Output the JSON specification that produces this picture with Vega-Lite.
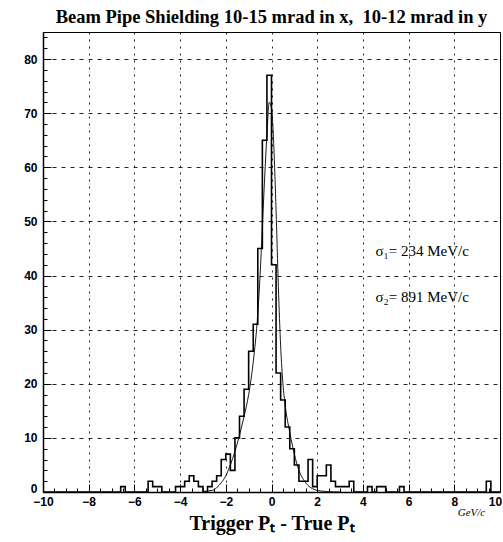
{
  "$schema": "https://vega.github.io/schema/vega-lite/v6.json",
  "width": 457,
  "height": 460,
  "autosize": {"type": "none"},
  "padding": {"left": 43, "top": 32, "right": 3, "bottom": 50},
  "background": "white",
  "config": {
    "view": {"stroke": "black", "strokeWidth": 1},
    "axis": {
      "domainColor": "black", "domainWidth": 1.5,
      "tickColor": "black", "tickWidth": 1,
      "labelFont": "Liberation Sans", "labelFontWeight": "bold", "labelFontSize": 12, "labelColor": "black",
      "labelFlush": false, "labelOverlap": false,
      "gridColor": "black", "gridOpacity": 0.85, "gridWidth": 1
    }
  },
  "title": {
    "text": "Beam Pipe Shielding 10-15 mrad in x,\u00a0 10-12 mrad in y",
    "font": "Liberation Serif", "fontSize": 18.5, "fontWeight": "bold", "color": "black",
    "anchor": "middle", "offset": 6
  },
  "datasets": {
    "hist": [
      {"x": -10, "n": 0}, {"x": -6.6, "n": 1}, {"x": -6.4, "n": 0},
      {"x": -5.4, "n": 2}, {"x": -5.2, "n": 1}, {"x": -5.0, "n": 1}, {"x": -4.8, "n": 0},
      {"x": -4.2, "n": 1}, {"x": -4.0, "n": 1}, {"x": -3.8, "n": 2}, {"x": -3.6, "n": 3},
      {"x": -3.4, "n": 2}, {"x": -3.2, "n": 1}, {"x": -3.0, "n": 0},
      {"x": -2.8, "n": 1}, {"x": -2.6, "n": 2}, {"x": -2.4, "n": 3}, {"x": -2.2, "n": 6},
      {"x": -2.0, "n": 7}, {"x": -1.8, "n": 4}, {"x": -1.6, "n": 10}, {"x": -1.4, "n": 14},
      {"x": -1.2, "n": 19}, {"x": -1.0, "n": 26}, {"x": -0.8, "n": 31}, {"x": -0.6, "n": 45},
      {"x": -0.4, "n": 65}, {"x": -0.2, "n": 77}, {"x": 0.0, "n": 42}, {"x": 0.2, "n": 22},
      {"x": 0.4, "n": 17}, {"x": 0.6, "n": 12}, {"x": 0.8, "n": 8}, {"x": 1.0, "n": 5},
      {"x": 1.2, "n": 2}, {"x": 1.4, "n": 2}, {"x": 1.6, "n": 6}, {"x": 1.8, "n": 1},
      {"x": 2.0, "n": 3}, {"x": 2.2, "n": 3}, {"x": 2.4, "n": 5}, {"x": 2.6, "n": 2},
      {"x": 2.8, "n": 1}, {"x": 3.0, "n": 1}, {"x": 3.2, "n": 1}, {"x": 3.4, "n": 2},
      {"x": 3.6, "n": 0}, {"x": 4.2, "n": 1}, {"x": 4.4, "n": 0},
      {"x": 4.6, "n": 1}, {"x": 4.8, "n": 1}, {"x": 5.0, "n": 0},
      {"x": 5.6, "n": 1}, {"x": 5.8, "n": 0}, {"x": 9.4, "n": 2}, {"x": 9.6, "n": 0},
      {"x": 10, "n": 0}
    ],
    "fit": [
      {"x": -3.0, "y": 0.1}, {"x": -2.6, "y": 0.3}, {"x": -2.4, "y": 0.8}, {"x": -2.2, "y": 1.7},
      {"x": -2.0, "y": 3.0}, {"x": -1.8, "y": 5.0}, {"x": -1.6, "y": 7.5}, {"x": -1.4, "y": 10.5},
      {"x": -1.2, "y": 14}, {"x": -1.0, "y": 18}, {"x": -0.8, "y": 24}, {"x": -0.6, "y": 33},
      {"x": -0.5, "y": 40}, {"x": -0.4, "y": 49}, {"x": -0.3, "y": 58}, {"x": -0.2, "y": 66},
      {"x": -0.1, "y": 72}, {"x": 0.0, "y": 71}, {"x": 0.1, "y": 64}, {"x": 0.2, "y": 52},
      {"x": 0.3, "y": 38}, {"x": 0.4, "y": 27}, {"x": 0.5, "y": 20}, {"x": 0.6, "y": 16},
      {"x": 0.8, "y": 11}, {"x": 1.0, "y": 7}, {"x": 1.2, "y": 4}, {"x": 1.4, "y": 2.3},
      {"x": 1.6, "y": 1.2}, {"x": 1.8, "y": 0.6}, {"x": 2.0, "y": 0.3}, {"x": 2.4, "y": 0.1},
      {"x": 3.0, "y": 0}
    ]
  },
  "layer": [
    {
      "data": {"name": "hist"},
      "mark": {"type": "line", "interpolate": "step-after", "color": "black", "strokeWidth": 1.6},
      "encoding": {
        "x": {
          "field": "x", "type": "quantitative",
          "scale": {"domain": [-10, 10], "nice": false, "zero": false},
          "axis": {
            "orient": "bottom",
            "values": [-10, -8, -6, -4, -2, 0, 2, 4, 6, 8, 10],
            "grid": true, "gridDash": [2, 5],
            "tickSize": -8, "labelPadding": 12,
            "labelOffset": {"condition": {"test": "datum.value === 10", "value": -5}, "value": 0},
            "title": "Trigger Pₜ - True Pₜ",
            "titleFont": "Liberation Serif", "titleFontSize": 20, "titleFontWeight": "bold",
            "titleColor": "black", "titlePadding": 6
          }
        },
        "y": {
          "field": "n", "type": "quantitative",
          "scale": {"domain": [0, 85], "nice": false},
          "axis": {
            "orient": "left",
            "values": [0, 10, 20, 30, 40, 50, 60, 70, 80],
            "grid": true, "gridDash": [4, 5],
            "tickSize": -8, "labelPadding": 14,
            "labelBaseline": {"condition": {"test": "datum.value === 0", "value": "alphabetic"}, "value": "middle"},
            "title": null
          }
        }
      }
    },
    {
      "data": {"name": "fit"},
      "mark": {"type": "line", "interpolate": "monotone", "color": "black", "strokeWidth": 0.9},
      "encoding": {
        "x": {
          "field": "x", "type": "quantitative",
          "scale": {"domain": [-10, 10], "nice": false, "zero": false},
          "axis": {
            "orient": "bottom",
            "values": [-9.5, -9, -8.5, -7.5, -7, -6.5, -5.5, -5, -4.5, -3.5, -3, -2.5, -1.5, -1, -0.5, 0.5, 1, 1.5, 2.5, 3, 3.5, 4.5, 5, 5.5, 6.5, 7, 7.5, 8.5, 9, 9.5],
            "grid": false, "labels": false, "domain": false,
            "tickSize": -4, "title": null
          }
        },
        "y": {
          "field": "y", "type": "quantitative",
          "scale": {"domain": [0, 85], "nice": false},
          "axis": {
            "orient": "left",
            "values": [2, 4, 6, 8, 12, 14, 16, 18, 22, 24, 26, 28, 32, 34, 36, 38, 42, 44, 46, 48, 52, 54, 56, 58, 62, 64, 66, 68, 72, 74, 76, 78, 82, 84],
            "grid": false, "labels": false, "domain": false,
            "tickSize": -4, "title": null
          }
        }
      }
    },
    {
      "data": {"values": [{"t": "σ₁= 234 MeV/c"}]},
      "mark": {"type": "text", "align": "left", "baseline": "middle", "font": "Liberation Serif", "fontSize": 15, "color": "black"},
      "encoding": {
        "x": {"datum": 4.55, "type": "quantitative", "axis": null},
        "y": {"datum": 44.5, "type": "quantitative", "axis": null},
        "text": {"field": "t"}
      }
    },
    {
      "data": {"values": [{"t": "σ₂= 891 MeV/c"}]},
      "mark": {"type": "text", "align": "left", "baseline": "middle", "font": "Liberation Serif", "fontSize": 15, "color": "black"},
      "encoding": {
        "x": {"datum": 4.55, "type": "quantitative", "axis": null},
        "y": {"datum": 36, "type": "quantitative", "axis": null},
        "text": {"field": "t"}
      }
    },
    {
      "data": {"values": [{"t": "GeV/c"}]},
      "mark": {"type": "text", "align": "center", "baseline": "middle", "font": "Liberation Serif", "fontSize": 11, "fontStyle": "italic", "color": "black"},
      "encoding": {
        "x": {"datum": 8.75, "type": "quantitative", "axis": null},
        "y": {"datum": -3.8, "type": "quantitative", "axis": null},
        "text": {"field": "t"}
      }
    }
  ],
  "resolve": {"axis": {"x": "independent", "y": "independent"}}
}
